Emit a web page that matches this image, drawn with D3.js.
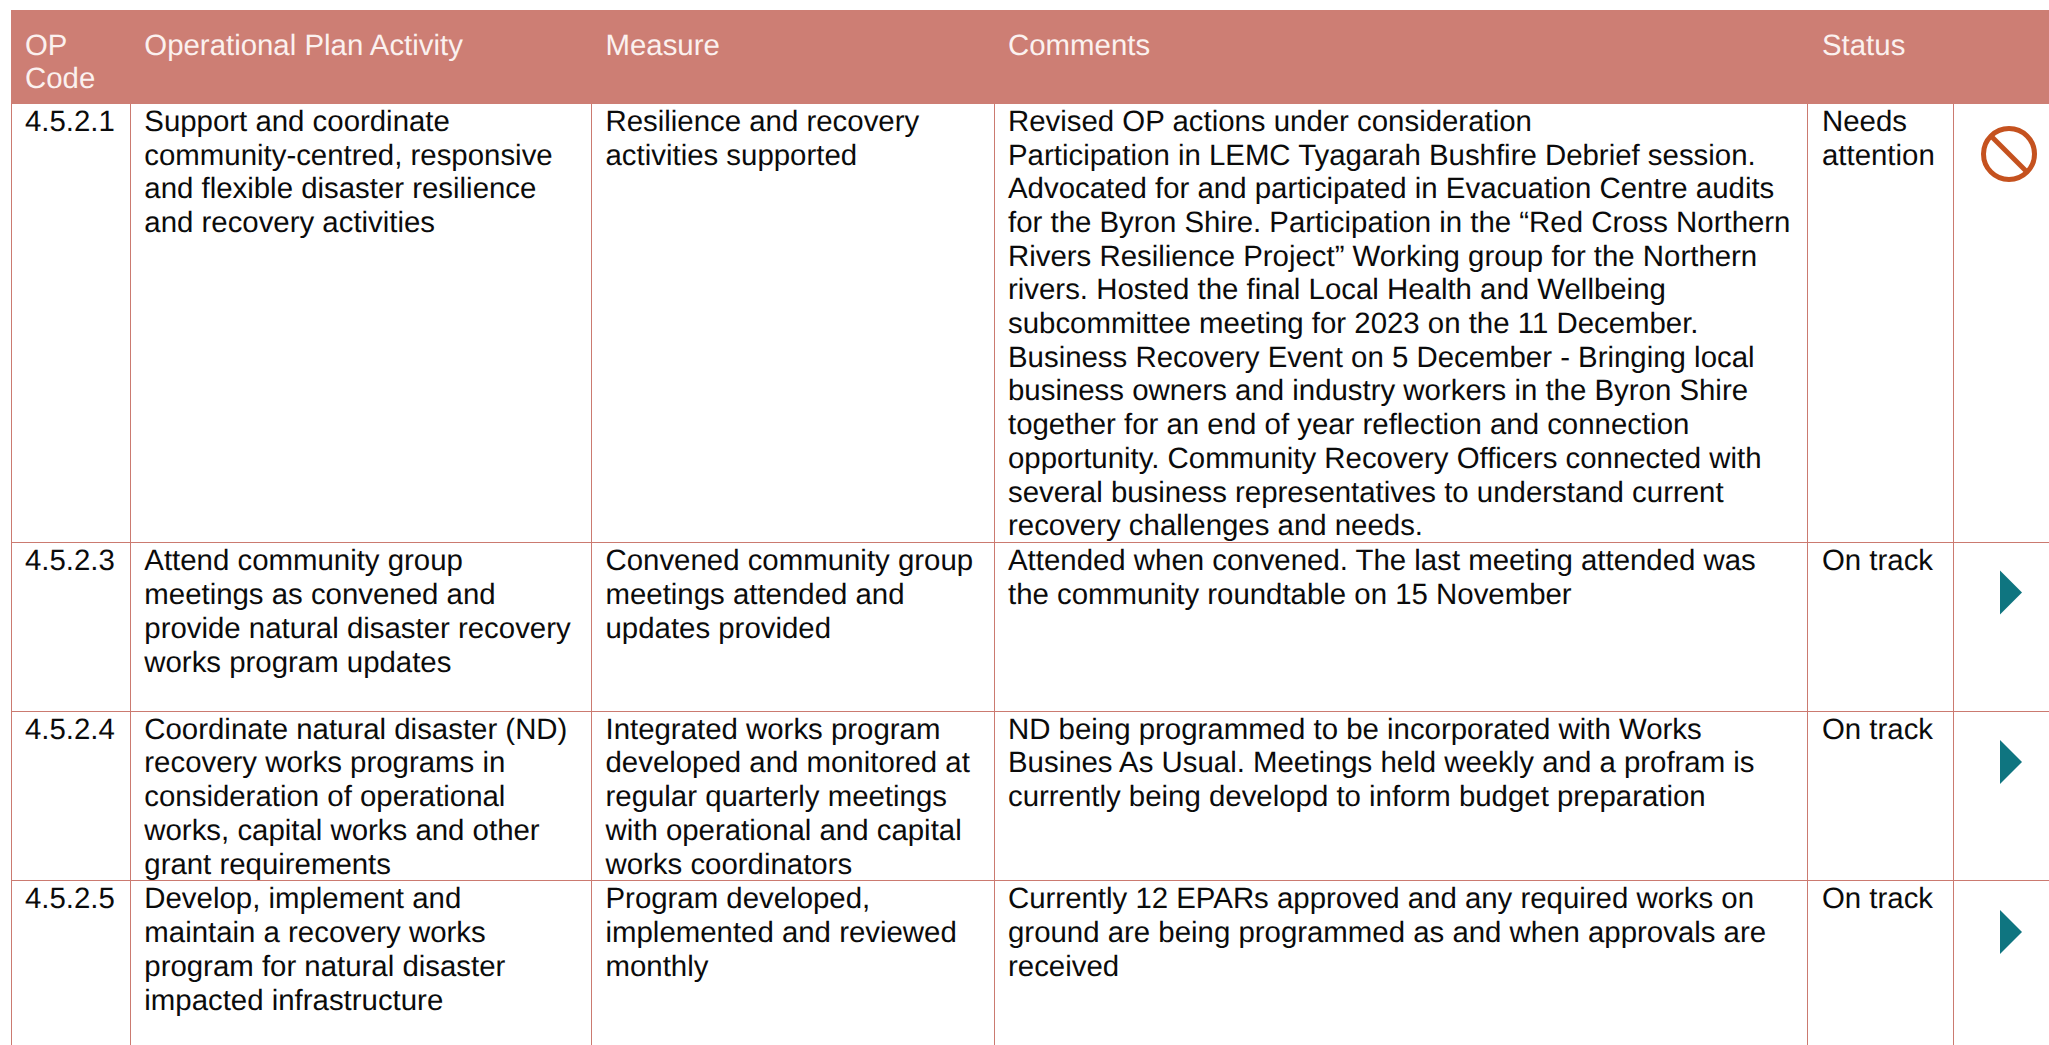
<!DOCTYPE html>
<html><head><meta charset="utf-8">
<script src="https://cdnjs.cloudflare.com/ajax/libs/d3/7.8.5/d3.min.js"></script>
<style>html,body{margin:0;padding:0;background:#fff;overflow:hidden}svg{display:block}text{font-family:"Liberation Sans",Arial,sans-serif;text-rendering:geometricPrecision}</style>
</head><body><svg id="c" width="2049" height="1045"></svg>
<script>
const headers = [["OP","Code"],["Operational Plan Activity"],["Measure"],["Comments"],["Status"]];
const opCodes = ["4.5.2.1","4.5.2.3","4.5.2.4","4.5.2.5"];
const activities = [
 ["Support and coordinate","community-centred, responsive","and flexible disaster resilience","and recovery activities"],
 ["Attend community group","meetings as convened and","provide natural disaster recovery","works program updates"],
 ["Coordinate natural disaster (ND)","recovery works programs in","consideration of operational","works, capital works and other","grant requirements"],
 ["Develop, implement and","maintain a recovery works","program for natural disaster","impacted infrastructure"]];
const measures = [
 ["Resilience and recovery","activities supported"],
 ["Convened community group","meetings attended and","updates provided"],
 ["Integrated works program","developed and monitored at","regular quarterly meetings","with operational and capital","works coordinators"],
 ["Program developed,","implemented and reviewed","monthly"]];
const comments = [
 ["Revised OP actions under consideration","Participation in LEMC Tyagarah Bushfire Debrief session.","Advocated for and participated in Evacuation Centre audits","for the Byron Shire. Participation in the “Red Cross Northern","Rivers Resilience Project” Working group for the Northern","rivers. Hosted the final Local Health and Wellbeing","subcommittee meeting for 2023 on the 11 December.","Business Recovery Event on 5 December - Bringing local","business owners and industry workers in the Byron Shire","together for an end of year reflection and connection","opportunity. Community Recovery Officers connected with","several business representatives to understand current","recovery challenges and needs."],
 ["Attended when convened. The last meeting attended was","the community roundtable on 15 November"],
 ["ND being programmed to be incorporated with Works","Busines As Usual. Meetings held weekly and a profram is","currently being developd to inform budget preparation"],
 ["Currently 12 EPARs approved and any required works on","ground are being programmed as and when approvals are","received"]];
const statuses = [["Needs","attention"],["On track"],["On track"],["On track"]];
const statusKinds = ["blocked","track","track","track"];

// layout
const colEdges = [11.5,130.5,591.5,994.5,1807.5,1953.5];
const rowEdges = [104,542.5,711.5,880.5,1045];
const rowBase = [26.8,27.6,27,27.6];
const rowPitch = [33.7,33.9,33.9,33.9];
const textX = [25,144.3,605.5,1008,1822];
const FS = 29.4;
const line = "#CB7A70", head = "#CD7E74", ink = "#0b0b0b";
const svg = d3.select("#c");

svg.append("rect").attr("x",11).attr("y",10).attr("width",2049-11).attr("height",94).attr("fill",head);

// grid
svg.append("g").selectAll("line").data(colEdges).join("line")
  .attr("x1",d=>d).attr("x2",d=>d).attr("y1",104).attr("y2",1045)
  .attr("stroke",line).attr("stroke-width",1);
svg.append("g").selectAll("line").data(rowEdges.slice(1,4)).join("line")
  .attr("x1",11.5).attr("x2",2049).attr("y1",d=>d).attr("y2",d=>d)
  .attr("stroke",line).attr("stroke-width",1);

function block(x, base, lines, fill, pitch){
  const lineY = d3.scaleLinear().domain([0,1]).range([base,base+pitch]);
  svg.append("text").attr("fill",fill).attr("font-size",FS)
    .selectAll("tspan").data(lines).join("tspan")
    .attr("x",x).attr("y",(d,i)=>lineY(i)).text(d=>d);
}
headers.forEach((h,i)=>block(textX[i],54.5,h,"#FBF1EF",33.8));
const cols = [opCodes.map(d=>[d]),activities,measures,comments,statuses];
cols.forEach((col,c)=>col.forEach((lines,r)=>block(textX[c],rowEdges[r]+rowBase[r],lines,ink,rowPitch[r])));

// status icons
const iconX = 2009;
const iconY = d3.scaleOrdinal().domain(opCodes).range([154,592.5,762,932]);
const triW = 22, triH = 44;
opCodes.forEach((code,i)=>{
  const cy = iconY(code);
  if(statusKinds[i]==="blocked"){
    const g = svg.append("g").attr("transform",`translate(${iconX},${cy})`);
    g.append("circle").attr("r",25.5).attr("fill","none").attr("stroke","#C5521F").attr("stroke-width",5);
    g.append("line").attr("x1",-18).attr("y1",-18).attr("x2",18).attr("y2",18).attr("stroke","#C5521F").attr("stroke-width",5);
  } else {
    svg.append("path").attr("d",d3.line()([[2000,cy-triH/2],[2000+triW,cy],[2000,cy+triH/2]])+"Z").attr("fill","#0F7580");
  }
});
</script></body></html>
